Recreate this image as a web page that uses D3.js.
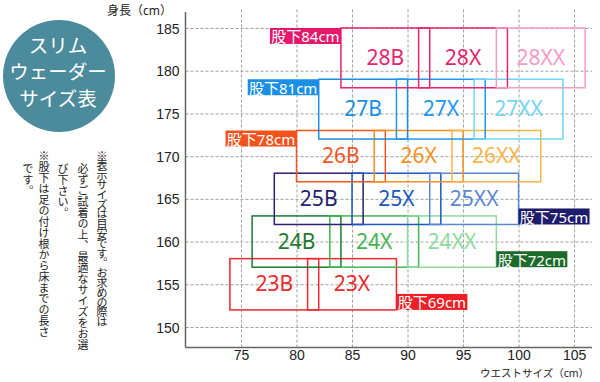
<!DOCTYPE html>
<html>
<head>
<meta charset="utf-8">
<script src="https://cdn.jsdelivr.net/npm/d3@7"></script>
<style>
  body { margin: 0; background: #fff; }
  svg { display: block; font-family: "Noto Sans", "Noto Sans CJK JP", sans-serif; }
</style>
</head>
<body>
<svg id="chart" width="600" height="382"></svg>
<script>
// size boxes: waist range (x) and height range (y)
var sizes      = ["23B", "23X", "24B", "24X", "24XX", "25B", "25X", "25XX", "26B", "26X", "26XX", "27B", "27X", "27XX", "28B", "28X", "28XX"];
var waistFrom  = [74, 81, 76, 83, 90, 78, 85, 92, 80, 87, 94, 82, 89, 96, 84, 91, 98];
var waistTo    = [82, 89, 84, 91, 98, 86, 93, 100, 88, 95, 102, 90, 97, 104, 92, 99, 106];
var heightFrom = [152, 152, 157, 157, 157, 162, 162, 162, 167, 167, 167, 172, 172, 172, 178, 178, 178];
var heightTo   = [158, 158, 163, 163, 163, 168, 168, 168, 173, 173, 173, 179, 179, 179, 185, 185, 185];

// inseam tags and the box each one is attached to
var inseamText = ["股下69cm", "股下72cm", "股下75cm", "股下78cm", "股下81cm", "股下84cm"];
var inseamBox  = ["23X", "24XX", "25XX", "26B", "27B", "28B"];

var xTicks = [75, 80, 85, 90, 95, 100, 105];
var yTicks = [150, 155, 160, 165, 170, 175, 180, 185];

var titleLines = ["スリム", "ウェーダー", "サイズ表"];
var noteColumns = [
  "※表示サイズは目安です。お求めの際は",
  "必ずご試着の上、最適なサイズをお選",
  "び下さい。",
  "※股下は足の付け根から床までの長さ",
  "です。"
];

// colours
var boxColor = {
  "23B": "#ee2a2e", "23X": "#ee2a2e",
  "24B": "#1f7a30", "24X": "#45b552", "24XX": "#8fdc9c",
  "25B": "#272370", "25X": "#1d58c0", "25XX": "#5a88d8",
  "26B": "#f2561f", "26X": "#f7901f", "26XX": "#fbb446",
  "27B": "#1b8ee6", "27X": "#2097f0", "27XX": "#72d6f2",
  "28B": "#e8246c", "28X": "#e8246c", "28XX": "#f59cc6"
};
var tagColor = {
  "股下69cm": "#ee1f26", "股下72cm": "#1d6b2b", "股下75cm": "#1d1b6b",
  "股下78cm": "#f2521c", "股下81cm": "#1b8ee6", "股下84cm": "#e5186b"
};

var boxes = sizes.map(function(s, i) {
  return { name: s, w0: waistFrom[i], w1: waistTo[i], h0: heightFrom[i], h1: heightTo[i] };
});

var svg = d3.select("#chart");

var x = d3.scaleLinear().domain([70, 106.5]).range([185.5, 590.7]);
var y = d3.scaleLinear().domain([147.6, 186.8]).range([347.5, 12.6]);

// grid via axes
var gx = svg.append("g")
  .attr("transform", "translate(0," + y.range()[0] + ")")
  .call(d3.axisBottom(x).tickValues(xTicks).tickSize(-(y.range()[0] - 8)).tickPadding(3));
var gy = svg.append("g")
  .attr("transform", "translate(" + x.range()[0] + ",0)")
  .call(d3.axisLeft(y).tickValues(yTicks).tickSize(-(592 - x.range()[0])).tickPadding(6));

[gx, gy].forEach(function(g) {
  g.select(".domain").remove();
  g.selectAll(".tick line")
    .attr("stroke", "#9aa49c")
    .attr("stroke-dasharray", "3,2");
  g.selectAll(".tick text")
    .attr("fill", "#222")
    .style("font-size", "14px");
});
gy.selectAll(".tick text").attr("dy", "0.36em");

// axis lines
svg.append("line")
  .attr("x1", x.range()[0]).attr("x2", x.range()[0])
  .attr("y1", 12).attr("y2", y.range()[0])
  .attr("stroke", "#666").attr("stroke-width", 1.5);
svg.append("line")
  .attr("x1", x.range()[0]).attr("x2", 592)
  .attr("y1", y.range()[0]).attr("y2", y.range()[0])
  .attr("stroke", "#666").attr("stroke-width", 1.5);

svg.append("text")
  .attr("x", 172).attr("y", 15)
  .attr("text-anchor", "end")
  .attr("fill", "#222")
  .style("font-size", "12px")
  .text("身長（cm）");
svg.append("text")
  .attr("x", 589).attr("y", 377)
  .attr("text-anchor", "end")
  .attr("fill", "#222")
  .style("font-size", "10.5px")
  .text("ウエストサイズ（cm）");

// size boxes
svg.selectAll(".sizebox")
  .data(boxes)
  .enter()
  .append("rect")
  .attr("class", "sizebox")
  .attr("x", function(d) { return x(d.w0); })
  .attr("y", function(d) { return y(d.h1); })
  .attr("width", function(d) { return x(d.w1) - x(d.w0); })
  .attr("height", function(d) { return y(d.h0) - y(d.h1); })
  .attr("fill", "none")
  .attr("stroke", function(d) { return boxColor[d.name]; })
  .attr("stroke-width", 1.5);

svg.selectAll(".sizelabel")
  .data(boxes)
  .enter()
  .append("text")
  .attr("class", "sizelabel")
  .attr("x", function(d) { return x((d.w0 + d.w1) / 2); })
  .attr("y", function(d) { return y((d.h0 + d.h1) / 2) - 1; })
  .attr("text-anchor", "middle")
  .attr("dominant-baseline", "central")
  .attr("fill", function(d) { return boxColor[d.name]; })
  .style("font-size", "21px")
  .text(function(d) { return d.name; });

// inseam tags
var tagW = 71, tagH = 16;
var tags = inseamText.map(function(t, i) {
  var b = boxes.find(function(d) { return d.name === inseamBox[i]; });
  var leftSide = b.h0 >= 167;
  return {
    text: t,
    x: leftSide ? x(b.w0) - tagW : x(b.w1),
    y: leftSide ? y(b.h1) : y(b.h0) - tagH
  };
});

var tagG = svg.selectAll(".tag")
  .data(tags)
  .enter()
  .append("g")
  .attr("class", "tag")
  .attr("transform", function(d) { return "translate(" + d.x + "," + d.y + ")"; });
tagG.append("rect")
  .attr("width", tagW).attr("height", tagH)
  .attr("fill", function(d) { return tagColor[d.text]; });
tagG.append("text")
  .attr("x", tagW / 2).attr("y", tagH / 2 + 0.5)
  .attr("text-anchor", "middle")
  .attr("dominant-baseline", "central")
  .attr("fill", "#fff")
  .style("font-size", "15px")
  .text(function(d) { return d.text; });

// title circle
svg.append("circle")
  .attr("cx", 59).attr("cy", 76).attr("r", 56)
  .attr("fill", "#4b8b9b");
svg.selectAll(".title")
  .data(titleLines)
  .enter()
  .append("text")
  .attr("class", "title")
  .attr("x", 58)
  .attr("y", function(d, i) { return 44 + i * 26.5; })
  .attr("text-anchor", "middle")
  .attr("dominant-baseline", "central")
  .attr("fill", "#fff")
  .style("font-family", "'Noto Sans CJK JP'")
  .style("font-size", "19.5px")
  .text(function(d) { return d; });

// vertical notes
var noteX = [102, 83, 63, 44, 28];
var noteY = [150, 163, 163, 150, 163];
svg.selectAll(".note")
  .data(noteColumns)
  .enter()
  .append("text")
  .attr("class", "note")
  .attr("x", function(d, i) { return noteX[i]; })
  .attr("y", function(d, i) { return noteY[i]; })
  .attr("fill", "#222")
  .style("writing-mode", "vertical-rl")
  .style("font-family", "'Noto Sans CJK JP'")
  .style("font-size", "11px")
  .style("letter-spacing", function(d, i) { return i === 0 ? "-1.2px" : "0px"; })
  .text(function(d) { return d; });
</script>
</body>
</html>
